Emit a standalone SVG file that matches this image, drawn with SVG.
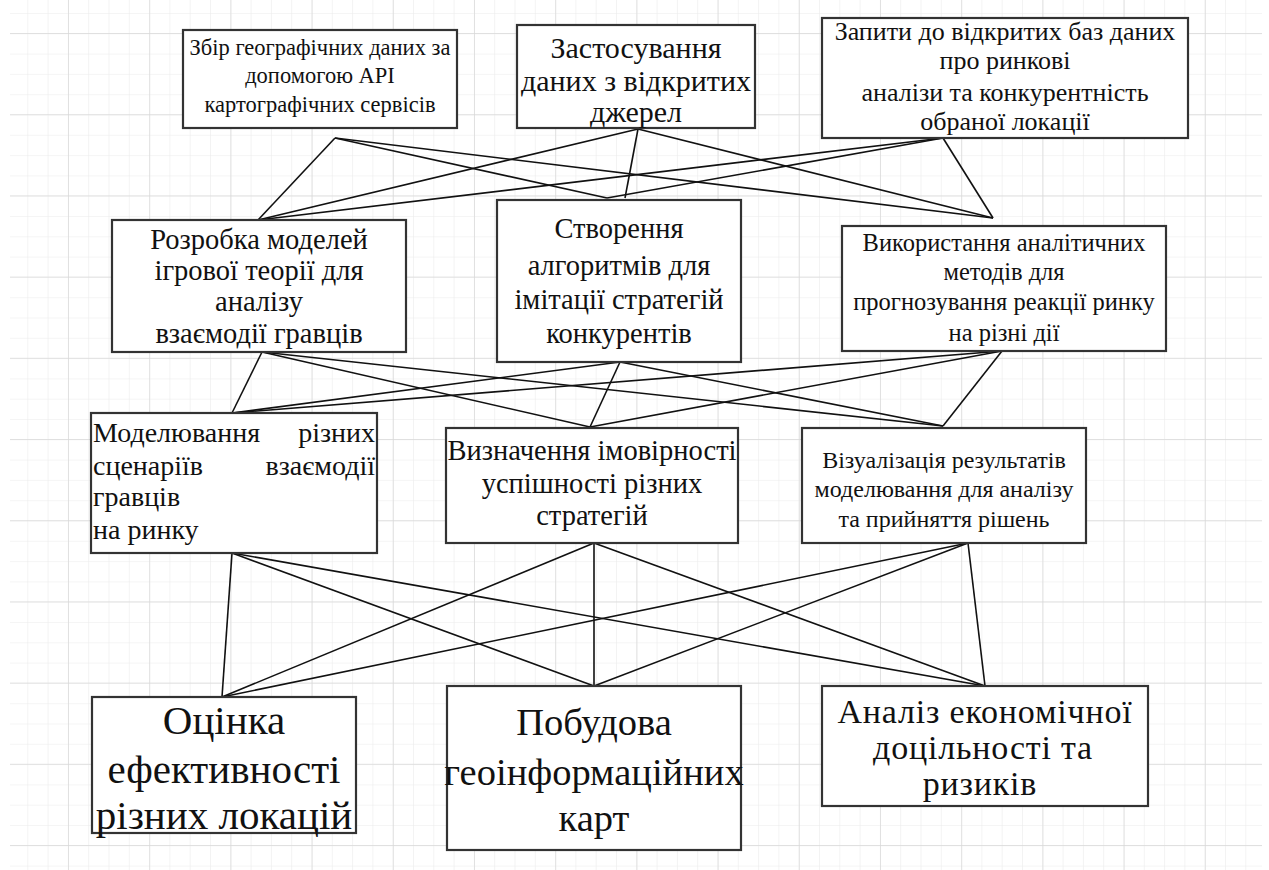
<svg xmlns="http://www.w3.org/2000/svg" width="1269" height="870" viewBox="0 0 1269 870">
<defs>
<pattern id="minor" x="7" y="13" width="20.3" height="20.3" patternUnits="userSpaceOnUse">
<path d="M0 0H20.3M0 0V20.3" fill="none" stroke="#ececec" stroke-width="1.2"/>
</pattern>
<pattern id="major" x="68" y="33" width="81.2" height="81.2" patternUnits="userSpaceOnUse">
<path d="M0 0H81.2M0 0V81.2" fill="none" stroke="#d9d9d9" stroke-width="1.4"/>
</pattern>
</defs>
<style>
.box{fill:#fff;stroke:#333;stroke-width:2.2}
text{font-family:"Liberation Serif","Times New Roman",serif;fill:#111;text-anchor:middle}
.l{text-anchor:start}
.r{text-anchor:end}
.c line{stroke:#111;stroke-width:1.6}
</style>
<rect width="1269" height="870" fill="#fff"/>
<rect x="10" y="0" width="1252" height="870" fill="url(#minor)"/>
<rect x="10" y="0" width="1252" height="870" fill="url(#major)"/>

<g id="connectors" class="c">
<line x1="335" y1="138" x2="258" y2="220"/>
<line x1="335" y1="138" x2="607" y2="198"/>
<line x1="335" y1="138" x2="993" y2="218"/>
<line x1="638" y1="129" x2="258" y2="220"/>
<line x1="638" y1="129" x2="625" y2="198"/>
<line x1="638" y1="129" x2="993" y2="218"/>
<line x1="943" y1="138" x2="258" y2="220"/>
<line x1="943" y1="138" x2="607" y2="198"/>
<line x1="943" y1="138" x2="993" y2="218"/>

<line x1="262" y1="352" x2="232" y2="413"/>
<line x1="262" y1="352" x2="590" y2="427"/>
<line x1="262" y1="352" x2="943" y2="426"/>
<line x1="620" y1="362" x2="232" y2="413"/>
<line x1="620" y1="362" x2="590" y2="427"/>
<line x1="620" y1="362" x2="943" y2="426"/>
<line x1="1002" y1="351" x2="232" y2="413"/>
<line x1="1002" y1="351" x2="590" y2="427"/>
<line x1="1002" y1="351" x2="943" y2="426"/>

<line x1="232" y1="553" x2="222" y2="697"/>
<line x1="232" y1="553" x2="594" y2="686"/>
<line x1="232" y1="553" x2="985" y2="686"/>
<line x1="594" y1="543" x2="222" y2="697"/>
<line x1="594" y1="543" x2="594" y2="686"/>
<line x1="594" y1="543" x2="985" y2="686"/>
<line x1="968" y1="543" x2="222" y2="697"/>
<line x1="968" y1="543" x2="594" y2="686"/>
<line x1="968" y1="543" x2="985" y2="686"/>
</g>

<g id="n1">
<rect class="box" x="183" y="30" width="274" height="98"/>
<text font-size="22.5"><tspan x="320" y="55">Збір географічних даних за</tspan><tspan x="320" y="83">допомогою API</tspan><tspan x="320" y="112">картографічних сервісів</tspan></text>
</g>
<g id="n2">
<rect class="box" x="517" y="25" width="238" height="103"/>
<text font-size="30"><tspan x="636" y="58">Застосування</tspan><tspan x="636" y="91">даних з відкритих</tspan><tspan x="636" y="122">джерел</tspan></text>
</g>
<g id="n3">
<rect class="box" x="822" y="18" width="366" height="120"/>
<text font-size="26"><tspan x="1005" y="40">Запити до відкритих баз даних</tspan><tspan x="1005" y="69">про ринкові</tspan><tspan x="1005" y="101">аналізи та конкурентність</tspan><tspan x="1005" y="130">обраної локації</tspan></text>
</g>

<g id="n4">
<rect class="box" x="112" y="220" width="294" height="132"/>
<text font-size="28.5"><tspan x="259" y="249">Розробка моделей</tspan><tspan x="259" y="280">ігрової теорії для</tspan><tspan x="259" y="311">аналізу</tspan><tspan x="259" y="343">взаємодії гравців</tspan></text>
</g>
<g id="n5">
<rect class="box" x="497" y="200" width="244" height="162"/>
<text font-size="28.5"><tspan x="619" y="238">Створення</tspan><tspan x="619" y="275">алгоритмів для</tspan><tspan x="619" y="309">імітації стратегій</tspan><tspan x="619" y="343">конкурентів</tspan></text>
</g>
<g id="n6">
<rect class="box" x="842" y="226" width="324" height="125"/>
<text font-size="24.5"><tspan x="1004" y="251">Використання аналітичних</tspan><tspan x="1004" y="280">методів для</tspan><tspan x="1004" y="310">прогнозування реакції ринку</tspan><tspan x="1004" y="341">на різні дії</tspan></text>
</g>

<g id="n7">
<rect class="box" x="91" y="413" width="286" height="140"/>
<text class="l" font-size="28" x="93" y="442">Моделювання</text>
<text class="r" font-size="28" x="375" y="442">різних</text>
<text class="l" font-size="28" x="93" y="475">сценаріїв</text>
<text class="r" font-size="28" x="375" y="475">взаємодії</text>
<text class="l" font-size="28" x="93" y="506">гравців</text>
<text class="l" font-size="28" x="93" y="539">на ринку</text>
</g>
<g id="n8">
<rect class="box" x="446" y="428" width="292" height="115"/>
<text font-size="28.5"><tspan x="592" y="460">Визначення імовірності</tspan><tspan x="592" y="493">успішності різних</tspan><tspan x="592" y="525">стратегій</tspan></text>
</g>
<g id="n9">
<rect class="box" x="802" y="428" width="284" height="115"/>
<text font-size="24"><tspan x="944" y="468">Візуалізація результатів</tspan><tspan x="944" y="497">моделювання для аналізу</tspan><tspan x="944" y="527">та прийняття рішень</tspan></text>
</g>

<g id="n10">
<rect class="box" x="92" y="697" width="264" height="136"/>
<text font-size="41"><tspan x="224" y="734">Оцінка</tspan><tspan x="224" y="783">ефективності</tspan><tspan x="224" y="829">різних локацій</tspan></text>
</g>
<g id="n11">
<rect class="box" x="447" y="686" width="294" height="164"/>
<text font-size="38.5"><tspan x="594" y="735">Побудова</tspan><tspan x="594" y="785">геоінформаційних</tspan><tspan x="594" y="831">карт</tspan></text>
</g>
<g id="n12">
<rect class="box" x="822" y="686" width="326" height="120"/>
<text font-size="34" letter-spacing="0.8"><tspan x="985" y="723">Аналіз економічної</tspan><tspan x="983" y="759">доцільності та</tspan><tspan x="980" y="795">ризиків</tspan></text>
</g>
</svg>
